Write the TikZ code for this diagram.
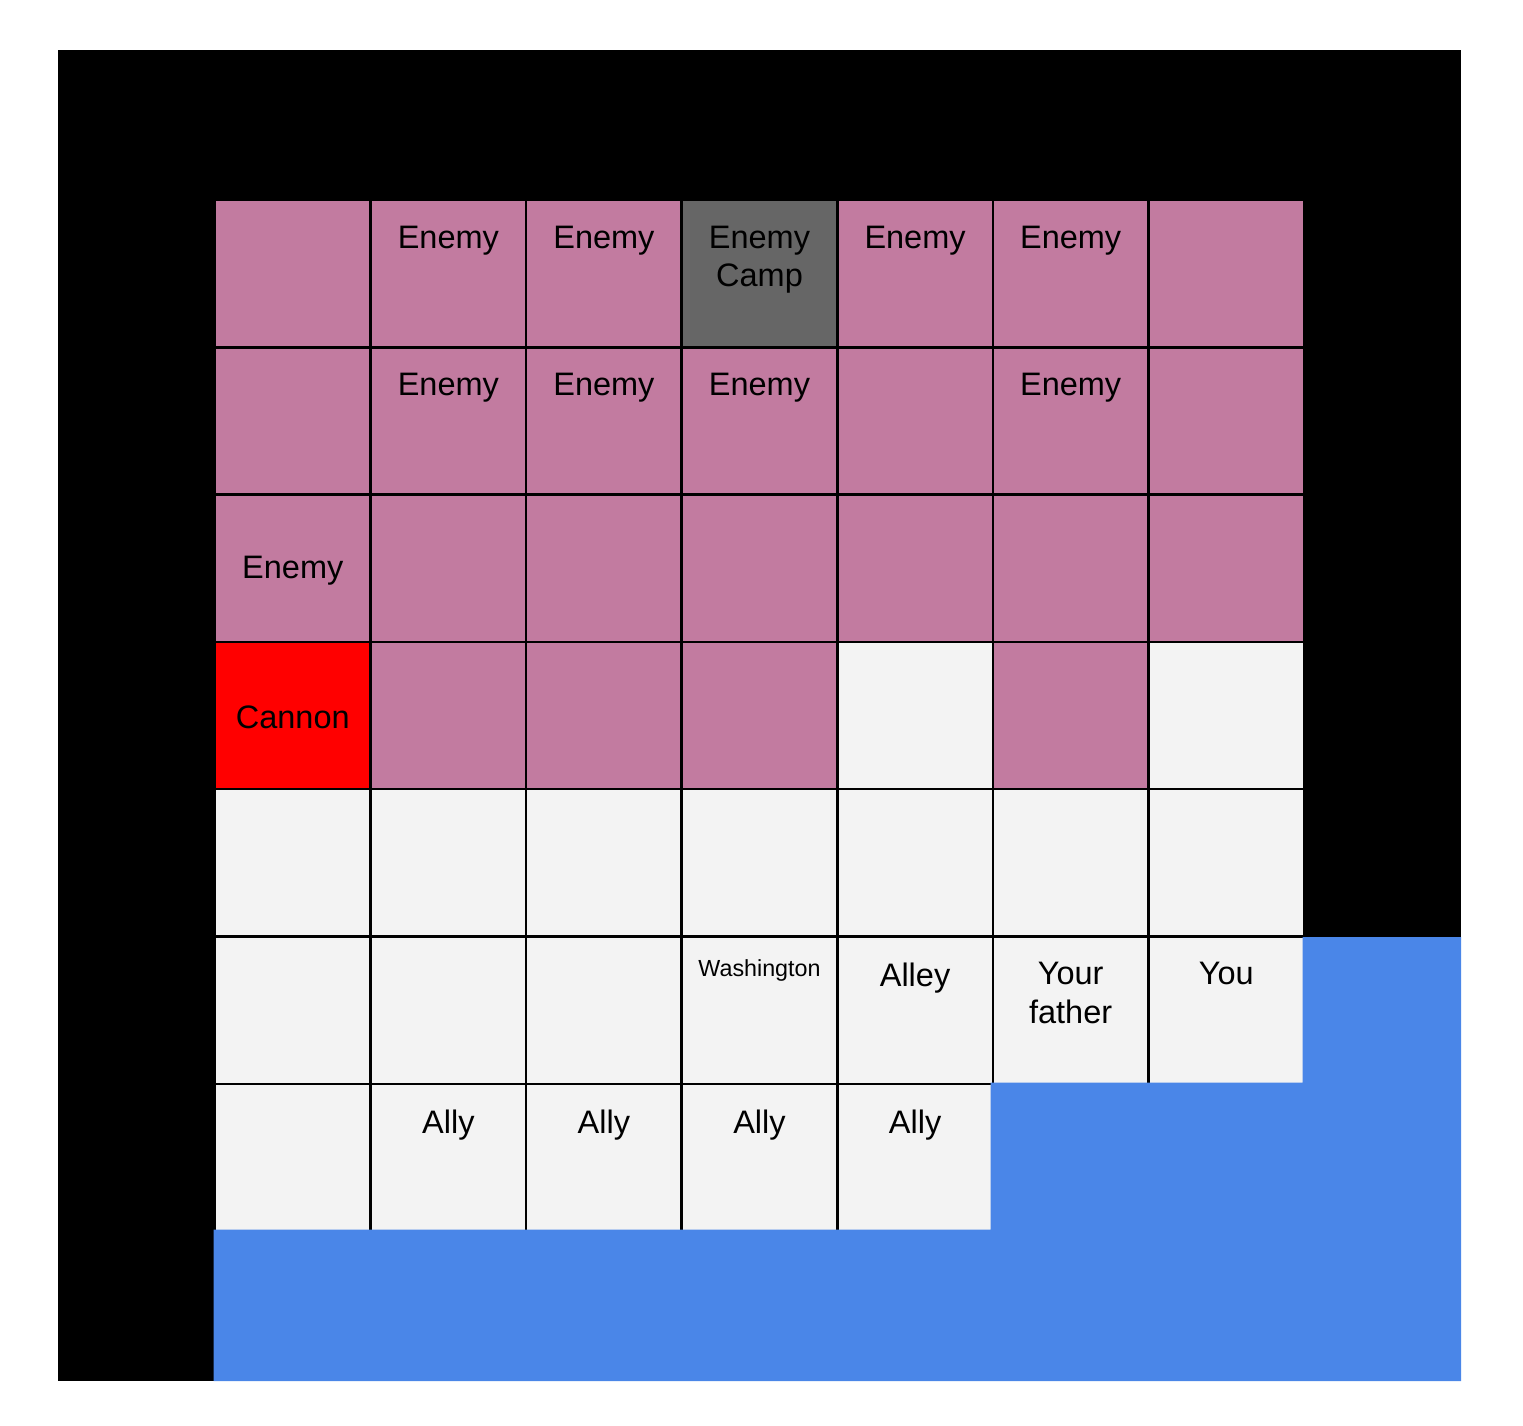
\documentclass[tikz,border=0pt]{standalone}
\usepackage{fontspec}
\setmainfont{Liberation Sans}
\definecolor{pk}{HTML}{C27BA0}
\definecolor{gy}{HTML}{666666}
\definecolor{rd}{HTML}{FF0000}
\definecolor{wt}{HTML}{F3F3F3}
\definecolor{bl}{HTML}{4A86E8}
\tikzset{
  cell/.style={rectangle, draw=black, line width=2.5pt, inner sep=0pt, outer sep=0pt,
    minimum width=155.57pt, minimum height=147.29pt, anchor=north west},
  txt/.style={inner sep=0pt, outer sep=0pt, align=center, font=\fontsize{32.5}{38.5}\selectfont},
  toptxt/.style={txt, anchor=north},
  smalltxt/.style={inner sep=0pt, outer sep=0pt, anchor=north, font=\fontsize{23.3}{27}\selectfont}
}
\begin{document}
\begin{tikzpicture}[x=1pt, y=-1pt]
\useasboundingbox (0,0) rectangle (1523,1426);
\fill[black] (58,50) rectangle (1461,1381);
\foreach [count=\r from 0] \rowlist in {
  {pk,pk,pk,gy,pk,pk,pk},
  {pk,pk,pk,pk,pk,pk,pk},
  {pk,pk,pk,pk,pk,pk,pk},
  {rd,pk,pk,pk,wt,pk,wt},
  {wt,wt,wt,wt,wt,wt,wt},
  {wt,wt,wt,wt,wt,wt,wt},
  {wt,wt,wt,wt,wt,bl,bl}} {
  \foreach [count=\c from 0] \col in \rowlist {
    \node[cell, fill=\col] (c\r\c) at (215+\c*155.57, 200+\r*147.29) {};
  }
}
% blue region
\fill[bl] (213.5,1229.5) -- (990.5,1229.5) -- (990.5,1082.5) -- (1302.5,1082.5)
  -- (1302.5,937) -- (1461,937) -- (1461,1381) -- (213.5,1381) -- cycle;
% texts
\node[toptxt] (t01) at ([yshift=-26pt]c01.north) {Enemy};
\node[toptxt] (t02) at ([yshift=-26pt]c02.north) {Enemy};
\node[toptxt] (t03) at ([yshift=-26pt]c03.north) {Enemy\\Camp};
\node[toptxt] (t04) at ([yshift=-26pt]c04.north) {Enemy};
\node[toptxt] (t05) at ([yshift=-26pt]c05.north) {Enemy};
\node[toptxt] (t11) at ([yshift=-26pt]c11.north) {Enemy};
\node[toptxt] (t12) at ([yshift=-26pt]c12.north) {Enemy};
\node[toptxt] (t13) at ([yshift=-26pt]c13.north) {Enemy};
\node[toptxt] (t15) at ([yshift=-26pt]c15.north) {Enemy};
\node[txt] (t20) at ([yshift=-2pt]c20.center) {Enemy};
\node[txt] (t30) at ([yshift=-2pt]c30.center) {Cannon};
\node[smalltxt] (t53) at ([yshift=-23pt]c53.north) {Washington};
\node[toptxt] (t54) at ([yshift=-26pt]c54.north) {Alley};
\node[toptxt] (t55) at ([yshift=-26pt]c55.north) {Your\\father};
\node[toptxt] (t56) at ([yshift=-26pt]c56.north) {You};
\node[toptxt] (t61) at ([yshift=-26pt]c61.north) {Ally};
\node[toptxt] (t62) at ([yshift=-26pt]c62.north) {Ally};
\node[toptxt] (t63) at ([yshift=-26pt]c63.north) {Ally};
\node[toptxt] (t64) at ([yshift=-26pt]c64.north) {Ally};
\end{tikzpicture}
\end{document}
